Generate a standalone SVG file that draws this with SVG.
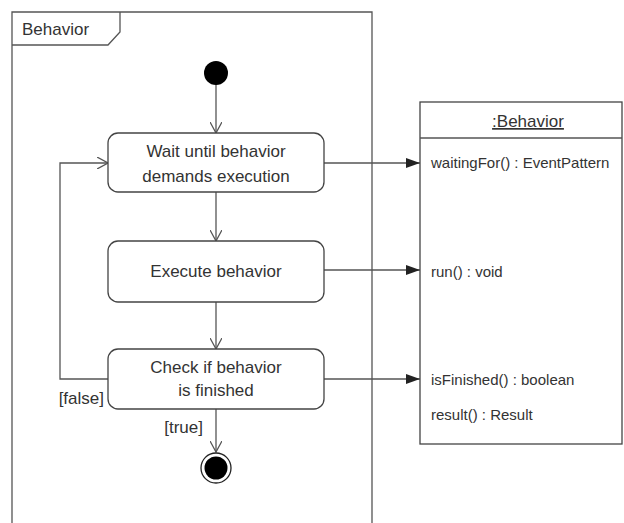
<svg xmlns="http://www.w3.org/2000/svg" width="624" height="523" viewBox="0 0 624 523">
<defs>
<style>
.ln{fill:none;stroke:#555;stroke-width:1.3}
.box{fill:#fff;stroke:#444;stroke-width:1.3}
.t{font-family:"Liberation Sans",Arial,sans-serif;font-size:17px;fill:#333}
.s{font-family:"Liberation Sans",Arial,sans-serif;font-size:15px;fill:#333}
</style>
<marker id="open" viewBox="0 0 12 12" refX="11" refY="6" markerWidth="12" markerHeight="12" markerUnits="userSpaceOnUse" orient="auto">
<path d="M0,0 L11,6 L0,12" fill="none" stroke="#555" stroke-width="1.3"/>
</marker>
<marker id="fill" viewBox="0 0 14 10" refX="14" refY="5" markerWidth="14" markerHeight="10" markerUnits="userSpaceOnUse" orient="auto">
<path d="M0,0 L14,5 L0,10 Z" fill="#222"/>
</marker>
</defs>
<g id="frame">
<path class="ln" d="M12,523 L12,12 L372,12 L372,523"/>
<path class="ln" d="M12,45 L108,45 L120,32 L120,12"/>
<text class="t" x="22" y="35">Behavior</text>
</g>
<g id="connectors">
<line class="ln" x1="216" y1="84" x2="216" y2="133" marker-end="url(#open)"/>
<line class="ln" x1="216" y1="192" x2="216" y2="241" marker-end="url(#open)"/>
<line class="ln" x1="216" y1="302" x2="216" y2="349" marker-end="url(#open)"/>
<line class="ln" x1="216" y1="409" x2="216" y2="452" marker-end="url(#open)"/>
<path class="ln" d="M108,379 L60,379 L60,163 L108,163" marker-end="url(#open)"/>
<line class="ln" x1="324" y1="163" x2="420" y2="163" marker-end="url(#fill)"/>
<line class="ln" x1="324" y1="270" x2="420" y2="270" marker-end="url(#fill)"/>
<line class="ln" x1="324" y1="379" x2="420" y2="379" marker-end="url(#fill)"/>
<text class="t" x="104" y="404" text-anchor="end">[false]</text>
<text class="t" x="203" y="433" text-anchor="end">[true]</text>
</g>
<g id="initial">
<circle cx="216" cy="73" r="12" fill="#000"/>
</g>
<g id="wait">
<rect class="box" x="108" y="133" width="216" height="59" rx="10"/>
<text class="t" x="216" y="157" text-anchor="middle">Wait until behavior</text>
<text class="t" x="216" y="182" text-anchor="middle">demands execution</text>
</g>
<g id="execute">
<rect class="box" x="108" y="241" width="216" height="61" rx="10"/>
<text class="t" x="216" y="277" text-anchor="middle">Execute behavior</text>
</g>
<g id="check">
<rect class="box" x="108" y="349" width="216" height="60" rx="10"/>
<text class="t" x="216" y="373" text-anchor="middle">Check if behavior</text>
<text class="t" x="216" y="396" text-anchor="middle">is finished</text>
</g>
<g id="final">
<circle cx="216" cy="468" r="15" fill="#fff" stroke="#222" stroke-width="1.3"/>
<circle cx="216" cy="468" r="11.5" fill="#000"/>
</g>
<g id="object">
<rect class="box" x="420" y="102" width="202" height="342"/>
<line class="ln" x1="420" y1="138" x2="622" y2="138"/>
<text class="t" x="528" y="127" text-anchor="middle" text-decoration="underline">:Behavior</text>
<text class="s" x="431" y="168">waitingFor() : EventPattern</text>
<text class="s" x="431" y="277">run() : void</text>
<text class="s" x="431" y="385">isFinished() : boolean</text>
<text class="s" x="431" y="420">result() : Result</text>
</g>
</svg>
